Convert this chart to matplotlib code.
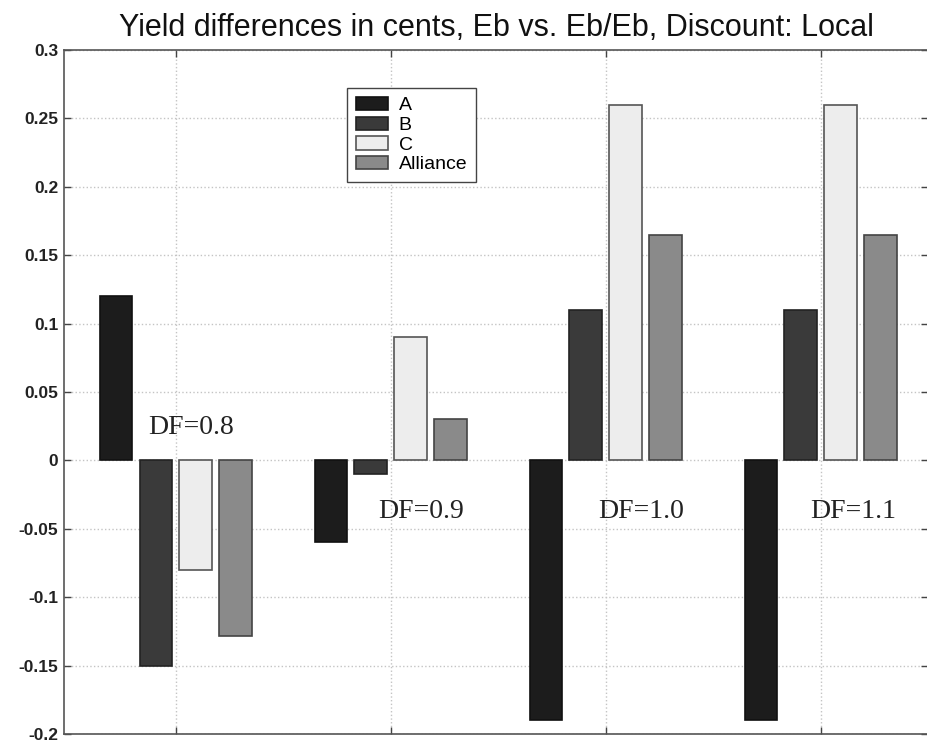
import matplotlib
matplotlib.use("Agg")
from matplotlib import pyplot as plt
from matplotlib import font_manager
import numpy as np

# Dados
grupos = [1, 2, 3, 4]
serie_a = [0.12, -0.06, -0.19, -0.19]
serie_b = [-0.15, -0.01, 0.11, 0.11]
serie_c = [-0.08, 0.09, 0.26, 0.26]
serie_alliance = [-0.128, 0.03, 0.165, 0.165]
nomes = ["A", "B", "C", "Alliance"]
rotulos_df = ["DF=0.8", "DF=0.9", "DF=1.0", "DF=1.1"]
pos_df_x = [1.073, 2.14, 3.166, 4.15]
pos_df_y = [0.024, -0.037, -0.037, -0.037]
yticks = [-0.2, -0.15, -0.1, -0.05, 0, 0.05, 0.1, 0.15, 0.2, 0.25, 0.3]

cores = ["#1c1c1c", "#3a3a3a", "#ededed", "#8a8a8a"]
bordas = ["#111111", "#222222", "#555555", "#444444"]

# Fonte estreita para o titulo, se existir
try:
    font_manager.findfont("Liberation Sans Narrow", fallback_to_default=False)
    fonte_titulo = "Liberation Sans Narrow"
    tam_titulo = 26
except Exception:
    fonte_titulo = "Liberation Sans"
    tam_titulo = 22

fig = plt.figure(figsize=(9.27, 7.44), dpi=100)
ax = fig.add_axes([64 / 927, 10 / 744, 864 / 927, 684 / 744])

x = np.array(grupos, dtype=float)
passo = 0.185
largura = 0.152
for i, (vals, nome) in enumerate(zip([serie_a, serie_b, serie_c, serie_alliance], nomes)):
    ax.bar(x + (i - 1.5) * passo, vals, width=largura, color=cores[i],
           edgecolor=bordas[i], linewidth=1.2, label=nome, zorder=3)

for tx, ty, txt in zip(pos_df_x, pos_df_y, rotulos_df):
    ax.text(tx, ty, txt, ha="center", va="center", fontsize=20,
            family="Liberation Serif", color="#222222", zorder=4)

ax.set_xlim(0.48, 4.5)
ax.set_ylim(-0.2, 0.3)
ax.set_xticks(grupos)
ax.set_xticklabels([])
ax.set_yticks(yticks)
ax.set_yticklabels([("%g" % v) for v in yticks], fontsize=12.5,
                   family="Liberation Sans", fontweight="bold", color="#222222")
ax.tick_params(direction="in", length=5, width=1, color="#444444",
               top=True, right=True, pad=4)
ax.grid(True, linestyle=":", color="#c4c4c4", linewidth=1, zorder=0)
for s in ax.spines.values():
    s.set_color("#555555")
    s.set_linewidth(1.2)

leg = ax.legend(loc="upper left", bbox_to_anchor=(283 / 864, 646 / 684),
                prop={"family": "Liberation Sans", "size": 14},
                fancybox=False, framealpha=1, edgecolor="#444444",
                handlelength=1.65, handleheight=0.67, handletextpad=0.55,
                labelspacing=0.12, borderpad=0.45, borderaxespad=0)
leg.get_frame().set_linewidth(1.0)

fig.text(0.535, 0.962, "Yield differences in cents, Eb vs. Eb/Eb, Discount: Local",
         ha="center", va="center", fontsize=tam_titulo, family=fonte_titulo,
         color="#111111")

fig.savefig("out.png", dpi=100)
